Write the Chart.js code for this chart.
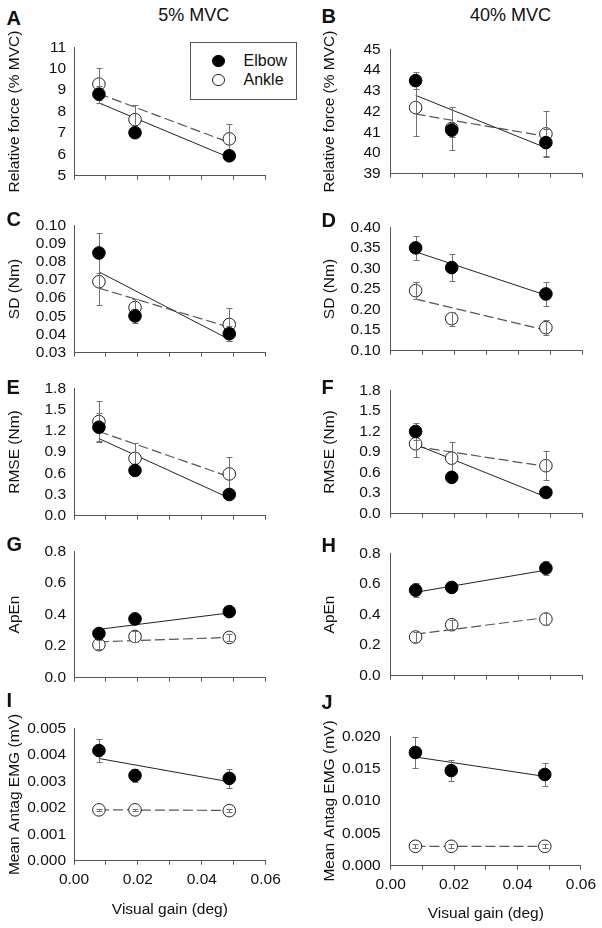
<!DOCTYPE html>
<html><head><meta charset="utf-8">
<script src="https://cdn.jsdelivr.net/npm/chart.js@4.4.0/dist/chart.umd.min.js"></script>
<style>
body{margin:0;width:602px;height:928px;background:#fff;position:relative;overflow:hidden;font-family:"Liberation Sans",Arial,sans-serif;color:#111}
canvas{position:absolute}
.let{position:absolute;font-weight:bold;font-size:20px;line-height:20px;white-space:nowrap}
.ttl{position:absolute;font-size:18px;line-height:18px;white-space:nowrap}
.leg{position:absolute;left:190px;top:41.7px;width:105px;height:56px;border:1px solid #555;background:#fff}
.legtxt{position:absolute;font-size:16px;line-height:16px;white-space:nowrap}
.dot{position:absolute;width:12.6px;height:12.6px;border-radius:50%;box-sizing:border-box}
</style></head><body>
<script>
// ---------- data ----------
const xGain = [0.0078, 0.0191, 0.0486];
const xFit = [0.0078, 0.0486];
const xTicks = [0, 0.01, 0.02, 0.03, 0.04, 0.05, 0.06];
const xTickLabels = ['0.00', '', '0.02', '', '0.04', '', '0.06'];
const columnTitles = ['5% MVC', '40% MVC'];
const seriesNames = ['Elbow', 'Ankle'];
const xTitle = 'Visual gain (deg)';

// A: relative force, 5% MVC
const ticksA = [5, 6, 7, 8, 9, 10, 11];
const elbowA = [8.81, 7.01, 5.93];
const elbowAErr = [0.40, 0.20, 0.20];
const ankleA = [9.28, 7.62, 6.72];
const ankleAErr = [0.75, 0.70, 0.70];
const fitElbowA = [8.40, 5.85];
const fitAnkleA = [8.83, 6.55];

// B: relative force, 40% MVC
const ticksB = [39, 40, 41, 42, 43, 44, 45];
const elbowB = [43.49, 41.10, 40.50];
const elbowBErr = [0.42, 0.35, 0.65];
const ankleB = [42.19, 41.18, 40.92];
const ankleBErr = [1.37, 1.06, 1.10];
const fitElbowB = [42.78, 40.25];
const fitAnkleB = [41.88, 40.80];

// C: SD, 5% MVC
const ticksC = [0.03, 0.04, 0.05, 0.06, 0.07, 0.08, 0.09, 0.10];
const elbowC = [0.0848, 0.0502, 0.0404];
const elbowCErr = [0.011, 0.004, 0.004];
const ankleC = [0.069, 0.0548, 0.0455];
const ankleCErr = [0.013, 0.0045, 0.009];
const fitElbowC = [0.0744, 0.0373];
const fitAnkleC = [0.0655, 0.0440];

// D: SD, 40% MVC
const ticksD = [0.10, 0.15, 0.20, 0.25, 0.30, 0.35, 0.40];
const elbowD = [0.350, 0.302, 0.238];
const elbowDErr = [0.030, 0.033, 0.030];
const ankleD = [0.246, 0.178, 0.156];
const ankleDErr = [0.020, 0.017, 0.019];
const fitElbowD = [0.3404, 0.2350];
const fitAnkleD = [0.2255, 0.1500];

// E: RMSE, 5% MVC
const ticksE = [0, 0.3, 0.6, 0.9, 1.2, 1.5, 1.8];
const elbowE = [1.25, 0.64, 0.30];
const elbowEErr = [0.20, 0.05, 0.04];
const ankleE = [1.33, 0.81, 0.59];
const ankleEErr = [0.29, 0.22, 0.24];
const fitElbowE = [1.09, 0.25];
const fitAnkleE = [1.19, 0.55];

// F: RMSE, 40% MVC
const ticksF = [0, 0.3, 0.6, 0.9, 1.2, 1.5, 1.8];
const elbowF = [1.20, 0.53, 0.31];
const elbowFErr = [0.12, 0.05, 0.04];
const ankleF = [1.02, 0.81, 0.70];
const ankleFErr = [0.20, 0.23, 0.21];
const fitElbowF = [1.01, 0.245];
const fitAnkleF = [0.98, 0.69];

// G: ApEn, 5% MVC
const ticksG = [0, 0.2, 0.4, 0.6, 0.8];
const elbowG = [0.28, 0.372, 0.418];
const elbowGErr = [0.03, 0.03, 0.03];
const ankleG = [0.209, 0.261, 0.255];
const ankleGErr = [0.03, 0.035, 0.02];
const fitElbowG = [0.306, 0.41];
const fitAnkleG = [0.227, 0.255];

// H: ApEn, 40% MVC
const ticksH = [0, 0.2, 0.4, 0.6, 0.8];
const elbowH = [0.559, 0.577, 0.703];
const elbowHErr = [0.045, 0.02, 0.045];
const ankleH = [0.253, 0.333, 0.370];
const ankleHErr = [0.03, 0.03, 0.04];
const fitElbowH = [0.545, 0.69];
const fitAnkleH = [0.272, 0.38];

// I: antagonist EMG, 5% MVC
const ticksI = [0, 0.001, 0.002, 0.003, 0.004, 0.005];
const elbowI = [0.00416, 0.00322, 0.00311];
const elbowIErr = [0.00043, 0.00025, 0.00036];
const ankleI = [0.00192, 0.00192, 0.00189];
const ankleIErr = [0.00005, 0.00005, 0.00005];
const fitElbowI = [0.00386, 0.00298];
const fitAnkleI = [0.00192, 0.00190];

// J: antagonist EMG, 40% MVC
const ticksJ = [0, 0.005, 0.010, 0.015, 0.020];
const elbowJ = [0.0175, 0.0147, 0.0141];
const elbowJErr = [0.0024, 0.0016, 0.0018];
const ankleJ = [0.0030, 0.0030, 0.0030];
const ankleJErr = [0.0003, 0.0003, 0.0003];
const fitElbowJ = [0.0168, 0.0138];
const fitAnkleJ = [0.0030, 0.0030];

// ---------- layout ----------
const FONT = "'Liberation Sans', Arial, sans-serif";
const panels = [
  {id:'A', col:0, top:45, bottom:180.3, ly:17.5, yTitle:'Relative force (% MVC)', ticks:ticksA, dec:0, e:elbowA, ee:elbowAErr, k:ankleA, ke:ankleAErr, fe:fitElbowA, fk:fitAnkleA},
  {id:'B', col:1, top:45, bottom:180.3, ly:15.5, yTitle:'Relative force (% MVC)', ticks:ticksB, dec:0, e:elbowB, ee:elbowBErr, k:ankleB, ke:ankleBErr, fe:fitElbowB, fk:fitAnkleB},
  {id:'C', col:0, top:223.3, bottom:357.2, ly:219, yTitle:'SD (Nm)', ticks:ticksC, dec:2, e:elbowC, ee:elbowCErr, k:ankleC, ke:ankleCErr, fe:fitElbowC, fk:fitAnkleC},
  {id:'D', col:1, top:223.3, bottom:357.5, ly:220, yTitle:'SD (Nm)', ticks:ticksD, dec:2, e:elbowD, ee:elbowDErr, k:ankleD, ke:ankleDErr, fe:fitElbowD, fk:fitAnkleD},
  {id:'E', col:0, top:386.7, bottom:520.3, ly:386.3, yTitle:'RMSE (Nm)', ticks:ticksE, dec:1, e:elbowE, ee:elbowEErr, k:ankleE, ke:ankleEErr, fe:fitElbowE, fk:fitAnkleE},
  {id:'F', col:1, top:386.7, bottom:520.3, ly:386.3, yTitle:'RMSE (Nm)', ticks:ticksF, dec:1, e:elbowF, ee:elbowFErr, k:ankleF, ke:ankleFErr, fe:fitElbowF, fk:fitAnkleF},
  {id:'G', col:0, top:549, bottom:683, ly:544, yTitle:'ApEn', ticks:ticksG, dec:1, e:elbowG, ee:elbowGErr, k:ankleG, ke:ankleGErr, fe:fitElbowG, fk:fitAnkleG},
  {id:'H', col:1, top:549, bottom:683, ly:545, yTitle:'ApEn', ticks:ticksH, dec:1, e:elbowH, ee:elbowHErr, k:ankleH, ke:ankleHErr, fe:fitElbowH, fk:fitAnkleH},
  {id:'I', col:0, top:726.7, bottom:860.7, ly:699.7, yTitle:'Mean Antag EMG (mV)', ticks:ticksI, dec:3, e:elbowI, ee:elbowIErr, k:ankleI, ke:ankleIErr, fe:fitElbowI, fk:fitAnkleI, last:true, xTitleY:909.3},
  {id:'J', col:1, top:732.7, bottom:865.7, ly:702, yTitle:'Mean Antag EMG (mV)', ticks:ticksJ, dec:3, e:elbowJ, ee:elbowJErr, k:ankleJ, ke:ankleJErr, fe:fitElbowJ, fk:fitAnkleJ, last:true, xTitleY:913.3}
];

function drawErr(chart, ds) {
  const xs = chart.scales.x, ys = chart.scales.y, ctx = chart.ctx;
  ctx.save();
  ctx.strokeStyle = '#707070';
  ctx.lineWidth = 1;
  ds.data.forEach((pt, i) => {
    const px = Math.round(xs.getPixelForValue(pt.x)) + 0.5;
    const yT = Math.round(ys.getPixelForValue(pt.y + ds.errors[i])) + 0.5;
    const yB = Math.round(ys.getPixelForValue(pt.y - ds.errors[i])) + 0.5;
    ctx.beginPath();
    ctx.moveTo(px, yT); ctx.lineTo(px, yB);
    ctx.moveTo(px - 3, yT); ctx.lineTo(px + 3, yT);
    ctx.moveTo(px - 3, yB); ctx.lineTo(px + 3, yB);
    ctx.stroke();
  });
  ctx.restore();
}
const errPlugin = {
  id: 'errbars',
  beforeDatasetDraw(chart, args) {
    const ds = chart.data.datasets[args.index];
    if (ds.errors && ds.errBehind) drawErr(chart, ds);
  },
  afterDatasetDraw(chart, args) {
    const ds = chart.data.datasets[args.index];
    if (ds.errors && !ds.errBehind) drawErr(chart, ds);
  }
};

function pts(xArr, yArr) { return yArr.map((v, i) => ({x: xArr[i], y: v})); }

function makePanel(p) {
  const cLeft = p.col ? 300 : 0;
  const cW = p.col ? 302 : 300;
  const plotL = (p.col ? 390.7 : 74) - cLeft;
  const plotR = p.col ? 582.3 : 265.7;
  const padR = cLeft + cW - plotR;
  const cTop = Math.floor(p.top - 15);
  const padT = p.top - cTop;
  const cBottom = p.last ? 928 : Math.ceil(p.bottom + 12);
  const cH = cBottom - cTop;
  const xh = cBottom - p.bottom;
  const cv = document.createElement('canvas');
  cv.width = cW; cv.height = cH;
  cv.style.left = cLeft + 'px'; cv.style.top = cTop + 'px';
  cv.style.width = cW + 'px'; cv.style.height = cH + 'px';
  document.body.appendChild(cv);
  const tFont = {family: FONT, size: 15.5};
  new Chart(cv.getContext('2d'), {
    type: 'scatter',
    data: {datasets: [
      {label: seriesNames[0], data: pts(xGain, p.e), errors: p.ee, errBehind: true, order: 0,
       pointRadius: 6.3, pointBackgroundColor: '#000', pointBorderColor: '#000', pointBorderWidth: 1, clip: false},
      {label: seriesNames[1], data: pts(xGain, p.k), errors: p.ke, errBehind: false, order: 1,
       pointRadius: 6.3, pointBackgroundColor: '#fff', pointBorderColor: '#222', pointBorderWidth: 1, clip: false},
      {label: 'fit ' + seriesNames[0], data: pts(xFit, p.fe), showLine: true, order: 2,
       pointRadius: 0, borderColor: '#222', borderWidth: 1},
      {label: 'fit ' + seriesNames[1], data: pts(xFit, p.fk), showLine: true, order: 3,
       pointRadius: 0, borderColor: '#555', borderWidth: 1.2, borderDash: [10, 4]}
    ]},
    options: {
      responsive: false, animation: false, devicePixelRatio: 1,
      layout: {padding: {left: 0, right: padR, top: padT, bottom: 0}},
      plugins: {legend: {display: false}, tooltip: {enabled: false}},
      scales: {
        x: {
          type: 'linear', min: xTicks[0], max: xTicks[xTicks.length - 1],
          afterBuildTicks: s => { s.ticks = xTicks.map(v => ({value: v})); },
          afterFit: s => { s.height = xh; },
          grid: {drawOnChartArea: false, drawTicks: true, tickLength: 4, tickColor: '#555'},
          border: {color: '#555', width: 1},
          ticks: {autoSkip: false, maxRotation: 0, padding: 6, color: '#111', font: tFont,
                  callback: (v, i) => p.last ? xTickLabels[i] : ''},
          title: {display: !!p.last, text: xTitle, color: '#111', font: tFont,
                  padding: {top: 0, bottom: p.last ? (cBottom - p.xTitleY - 9.3) : 0}}
        },
        y: {
          type: 'linear', min: p.ticks[0], max: p.ticks[p.ticks.length - 1],
          afterBuildTicks: s => { s.ticks = p.ticks.map(v => ({value: v})); },
          afterFit: s => { s.width = plotL; },
          grid: {drawOnChartArea: false, drawTicks: false},
          border: {color: '#555', width: 1},
          ticks: {autoSkip: false, padding: p.col ? 10 : 8, color: '#111', font: tFont,
                  callback: v => Number(v).toFixed(p.dec)},
          title: {display: true, text: p.yTitle, color: '#111', font: tFont,
                  padding: {top: p.col ? 20 : 5, bottom: 0}}
        }
      }
    },
    plugins: [errPlugin]
  });
  const L = document.createElement('div');
  L.className = 'let';
  L.textContent = p.id;
  L.style.left = (p.col ? 321.5 : 6.5) + 'px';
  L.style.top = (p.ly - 9.8) + 'px';
  document.body.appendChild(L);
}
panels.forEach(makePanel);

// column titles
[[158.3, columnTitles[0]], [470, columnTitles[1]]].forEach(([x, t]) => {
  const d = document.createElement('div');
  d.className = 'ttl'; d.textContent = t;
  d.style.left = x + 'px'; d.style.top = '6.2px';
  document.body.appendChild(d);
});

// legend
const leg = document.createElement('div');
leg.className = 'leg';
document.body.appendChild(leg);
[[61, seriesNames[0], '#000', '#000'], [80, seriesNames[1], '#fff', '#222']].forEach(([cy, t, bg, bc]) => {
  const d = document.createElement('div');
  d.className = 'dot';
  d.style.left = (218.3 - 6.3) + 'px'; d.style.top = (cy - 6.3) + 'px';
  d.style.background = bg; d.style.border = '1px solid ' + bc;
  document.body.appendChild(d);
  const s = document.createElement('div');
  s.className = 'legtxt'; s.textContent = t;
  s.style.left = '243.5px'; s.style.top = (cy - 7.8) + 'px';
  document.body.appendChild(s);
});
</script>
</body></html>
